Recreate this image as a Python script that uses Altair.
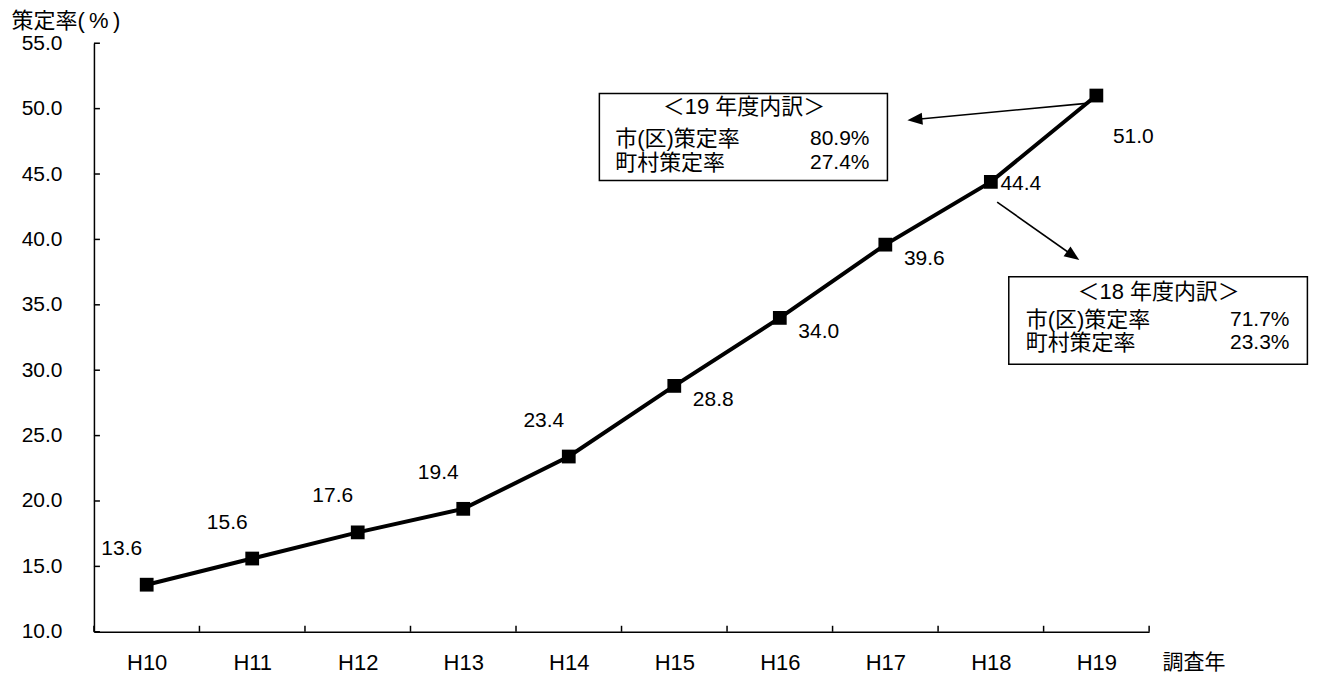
import altair as alt
import pandas as pd

# ---- data ----
years = ["H10", "H11", "H12", "H13", "H14", "H15", "H16", "H17", "H18", "H19"]
rates = [13.6, 15.6, 17.6, 19.4, 23.4, 28.8, 34.0, 39.6, 44.4, 51.0]
y_ticks = [10, 15, 20, 25, 30, 35, 40, 45, 50, 55]

y_title = "策定率(\u2009%\u2009)"
x_title = "調査年"

box_titles = ["＜19 年度内訳＞", "＜18 年度内訳＞"]
row_labels = ["市(区)策定率", "町村策定率"]
box19_values = ["80.9%", "27.4%"]
box18_values = ["71.7%", "23.3%"]

FONT = "Liberation Sans, Arial, Noto Sans CJK JP"
FS = 21

pos = [int(y[1:]) for y in years]
df = pd.DataFrame({"year": years, "pos": pos, "rate": rates})

xs = alt.Scale(domain=[9.5, 19.5], nice=False, zero=False)
ys = alt.Scale(domain=[10, 55], nice=False, zero=False)

# annotation placement (in data units, drawn through the scales)
boxes = pd.DataFrame({
    "pos": [14.29, 18.17], "pos2": [17.02, 21.0],
    "rate": [51.15, 37.15], "rate2": [44.50, 30.45],
})
box_title_df = pd.DataFrame({"pos": [15.66, 19.59], "rate": [50.1, 35.98], "t": box_titles})
row_df = pd.DataFrame({
    "pos": [14.44, 14.44, 18.33, 18.33],
    "rate": [47.70, 45.83, 33.80, 32.05],
    "t": row_labels + row_labels,
})
val_df = pd.DataFrame({
    "pos": [16.85, 16.85, 20.83, 20.83],
    "rate": [47.70, 45.83, 33.80, 32.05],
    "t": box19_values + box18_values,
})
arrow1 = pd.DataFrame({"pos": [18.93], "rate": [50.42], "pos2": [17.28], "rate2": [49.17]})
arrow2 = pd.DataFrame({"pos": [18.06], "rate": [42.85], "pos2": [18.78], "rate2": [38.75]})

X = alt.X("pos:Q", scale=xs)
Y = alt.Y("rate:Q", scale=ys)

line = alt.Chart(df).mark_line(color="black", strokeWidth=4).encode(
    x=alt.X("pos:Q", scale=xs, title=x_title,
            axis=alt.Axis(values=pos, labelExpr="'H' + datum.value", ticks=False, tickSize=0,
                          grid=False, domainColor="black", domainWidth=1.5,
                          labelFont=FONT, labelFontSize=22, labelColor="black",
                          labelBaseline="middle", labelPadding=31, labelFlush=False,
                          titleFont=FONT, titleFontSize=21, titleFontWeight="normal", titleColor="black",
                          titleX=1069, titleY=31, titleAlign="left", titleBaseline="middle")),
    y=alt.Y("rate:Q", scale=ys, title=y_title,
            axis=alt.Axis(values=y_ticks, format=".1f", ticks=False, tickSize=0, grid=False,
                          domainColor="black", domainWidth=1.5,
                          labelFont=FONT, labelFontSize=FS, labelColor="black",
                          labelPadding=32, labelBaseline="middle",
                          titleFont=FONT, titleFontSize=22, titleFontWeight="normal", titleColor="black",
                          titleAngle=0, titleX=-83, titleY=-23, titleAlign="left", titleBaseline="middle")),
)

points = alt.Chart(df).mark_point(shape="square", filled=True, color="black", opacity=1, size=190).encode(x=X, y=Y)

ytick_df = pd.DataFrame({"rate": y_ticks})
yticks = alt.Chart(ytick_df).mark_rule(color="black", strokeWidth=1.5).encode(
    y=Y, x=alt.value(0), x2=alt.value(6))
xtick_df = pd.DataFrame({"pos": [p - 0.5 for p in pos] + [pos[-1] + 0.5]})
xticks = alt.Chart(xtick_df).mark_rule(color="black", strokeWidth=1.5).encode(
    x=X, y=alt.value(589), y2=alt.value(583))

def lbl(sel, dx, dy):
    return alt.Chart(df).transform_filter(alt.FieldOneOfPredicate(field="year", oneOf=sel)).mark_text(
        font=FONT, fontSize=FS, color="black", align="center", baseline="middle", dx=dx, dy=dy
    ).encode(x=X, y=Y, text=alt.Text("rate:Q", format=".1f"))

labels = [
    lbl(years[:5], -25, -36),
    lbl(years[5:8], 39, 14),
    lbl([years[8]], 30, 2),
    lbl([years[9]], 37, 41),
]

rects = alt.Chart(boxes).mark_rect(fill="white", stroke="black", strokeWidth=1.5).encode(
    x=X, x2="pos2:Q", y=Y, y2="rate2:Q")
btitles = alt.Chart(box_title_df).mark_text(font=FONT, fontSize=22, color="black", align="center",
                                            baseline="middle").encode(x=X, y=Y, text="t:N")
rows = alt.Chart(row_df).mark_text(font=FONT, fontSize=22, color="black", align="left",
                                   baseline="middle").encode(x=X, y=Y, text="t:N")
vals = alt.Chart(val_df).mark_text(font=FONT, fontSize=FS, color="black", align="right",
                                   baseline="middle").encode(x=X, y=Y, text="t:N")

arrow_path = "M0,-1L0.8,1L-0.8,1Z"
def arrow(d, ang):
    r = alt.Chart(d).mark_rule(color="black", strokeWidth=1.6).encode(x=X, x2="pos2:Q", y=Y, y2="rate2:Q")
    h = alt.Chart(d).mark_point(shape=arrow_path, filled=True, color="black", opacity=1, size=225,
                                angle=ang).encode(x=alt.X("pos2:Q", scale=xs), y=alt.Y("rate2:Q", scale=ys))
    return r + h

chart = alt.layer(
    line, yticks, xticks, rects, btitles, rows, vals,
    arrow(arrow1, 264.7), arrow(arrow2, 125.3),
    points, *labels
).properties(
    width=1056, height=589,
    background="white",
    autosize=alt.AutoSizeParams(type="none"),
    padding={"left": 86, "top": 35, "right": 160, "bottom": 46},
).configure_view(strokeWidth=0, stroke="transparent")

chart.save("out.html", embed_options={"renderer": "svg", "actions": False})
